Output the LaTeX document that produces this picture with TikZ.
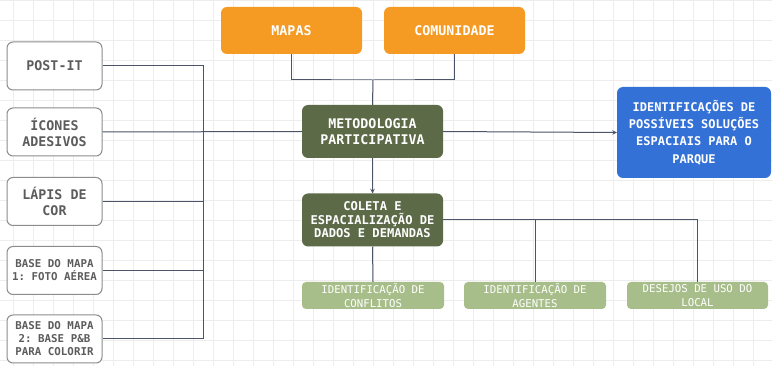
\documentclass[tikz,border=0pt]{standalone}
\usepackage{fontspec}
\setmonofont{DejaVu Sans Mono}
\usetikzlibrary{arrows}
\definecolor{toolgray}{HTML}{8C8C8C}
\definecolor{tooltext}{HTML}{5C5C5C}
\definecolor{orangebox}{HTML}{F59A23}
\definecolor{darkgreen}{HTML}{5D6A47}
\definecolor{lightgreen}{HTML}{A8BE8A}
\definecolor{bluebox}{HTML}{3471D6}
\definecolor{linkcol}{HTML}{4B5468}
\definecolor{gridcol}{HTML}{EDEDED}

\begin{document}
\begin{tikzpicture}[x=1pt,y=-1pt,>=stealth]
\tikzset{
  box/.style={rounded corners=6pt,align=center,inner sep=2pt},
  tool/.style={box,draw=toolgray,line width=1pt,fill=white,text=tooltext,
    minimum width=95pt,minimum height=48pt,
    font=\ttfamily\bfseries\fontsize{13.3}{16}\selectfont},
  toolsmall/.style={tool,font=\ttfamily\bfseries\fontsize{10.8}{13}\selectfont},
  source/.style={box,fill=orangebox,text=white,minimum width=141pt,minimum height=47pt,
    font=\ttfamily\bfseries\fontsize{13.3}{16}\selectfont},
  stage/.style={box,fill=darkgreen,text=white,minimum width=141pt,minimum height=53pt,
    font=\ttfamily\bfseries\fontsize{13.3}{16}\selectfont},
  goal/.style={box,fill=bluebox,text=white,minimum width=154pt,minimum height=91pt,
    font=\ttfamily\bfseries\fontsize{12}{17.2}\selectfont},
  result/.style={rounded corners=4pt,align=center,inner sep=1pt,fill=lightgreen,text=white,
    minimum width=142pt,minimum height=27pt,
    font=\ttfamily\fontsize{10.7}{13.3}\selectfont},
  link/.style={draw=linkcol,line width=1pt},
  gridline/.style={draw=gridcol,line width=0.6pt}
}

%--- background grid ---
\fill[white] (0,0) rectangle (772,366);
\useasboundingbox (0,0) rectangle (772,366);
\foreach \gx in {13,33,...,772} \draw[gridline] (\gx,0) -- (\gx,366);
\foreach \gy in {0,20,...,366} \draw[gridline] (0,\gy) -- (772,\gy);

%--- material ---
\node[tool] (postit) at (54.5,66) {POST-IT};
\node[tool] (icones) at (54.5,132) {ÍCONES\\ADESIVOS};
\node[tool] (lapis) at (54.5,201.5) {LÁPIS DE\\COR};
\node[toolsmall] (base1) at (54.5,270.5) {BASE DO MAPA\\1: FOTO AÉREA};
\node[toolsmall] (base2) at (54.5,339) {BASE DO MAPA\\2: BASE P\&B\\PARA COLORIR};

%--- sources ---
\node[source] (mapas) at (291.5,30.5) {MAPAS};
\node[source] (comunidade) at (454.5,30.5) {COMUNIDADE};

%--- stages ---
\node[stage] (metodo) at (372.5,131.5) {METODOLOGIA\\PARTICIPATIVA};
\node[stage,font=\ttfamily\bfseries\fontsize{12.1}{13.5}\selectfont] (coleta) at (372.5,220)
  {COLETA E\\ESPACIALIZAÇÃO DE\\DADOS E DEMANDAS};
\node[goal] (solucoes) at (694,132.5)
  {IDENTIFICAÇÕES DE\\POSSÍVEIS SOLUÇÕES\\ESPACIAIS PARA O\\PARQUE};

%--- results ---
\node[result] (conflitos) at (373,295.5) {IDENTIFICAÇÃO DE\\CONFLITOS};
\node[result] (agentes) at (535,295.5) {IDENTIFICAÇÃO DE\\AGENTES};
\node[result,minimum width=141pt] (desejos) at (697.5,295.5) {DESEJOS DE USO DO\\LOCAL};

%--- connectors ---
\coordinate (bus) at (203,0);
\coordinate (merge) at (373,80);

\draw[link] (postit.east) -| (bus |- base2.east) -- (base2.east);
\draw[link] (lapis.east) -- (lapis.east -| bus);
\draw[link] (base1.east) -- (base1.east -| bus);
\draw[link] (icones.east) -- (metodo.west);

\draw[link] (mapas.south) |- (merge) -| (comunidade.south);
\draw[link] (merge) -- (metodo.north);

\draw[link,->] (metodo.south) -- (coleta.north);
\draw[link,->] (metodo.east) -- (solucoes.west);

\draw[link] (coleta.south) -- (conflitos.north);
\draw[link] (coleta.east) -| (desejos.north);
\draw[link] (coleta.east -| agentes.north) -- (agentes.north);

\end{tikzpicture}
\end{document}
